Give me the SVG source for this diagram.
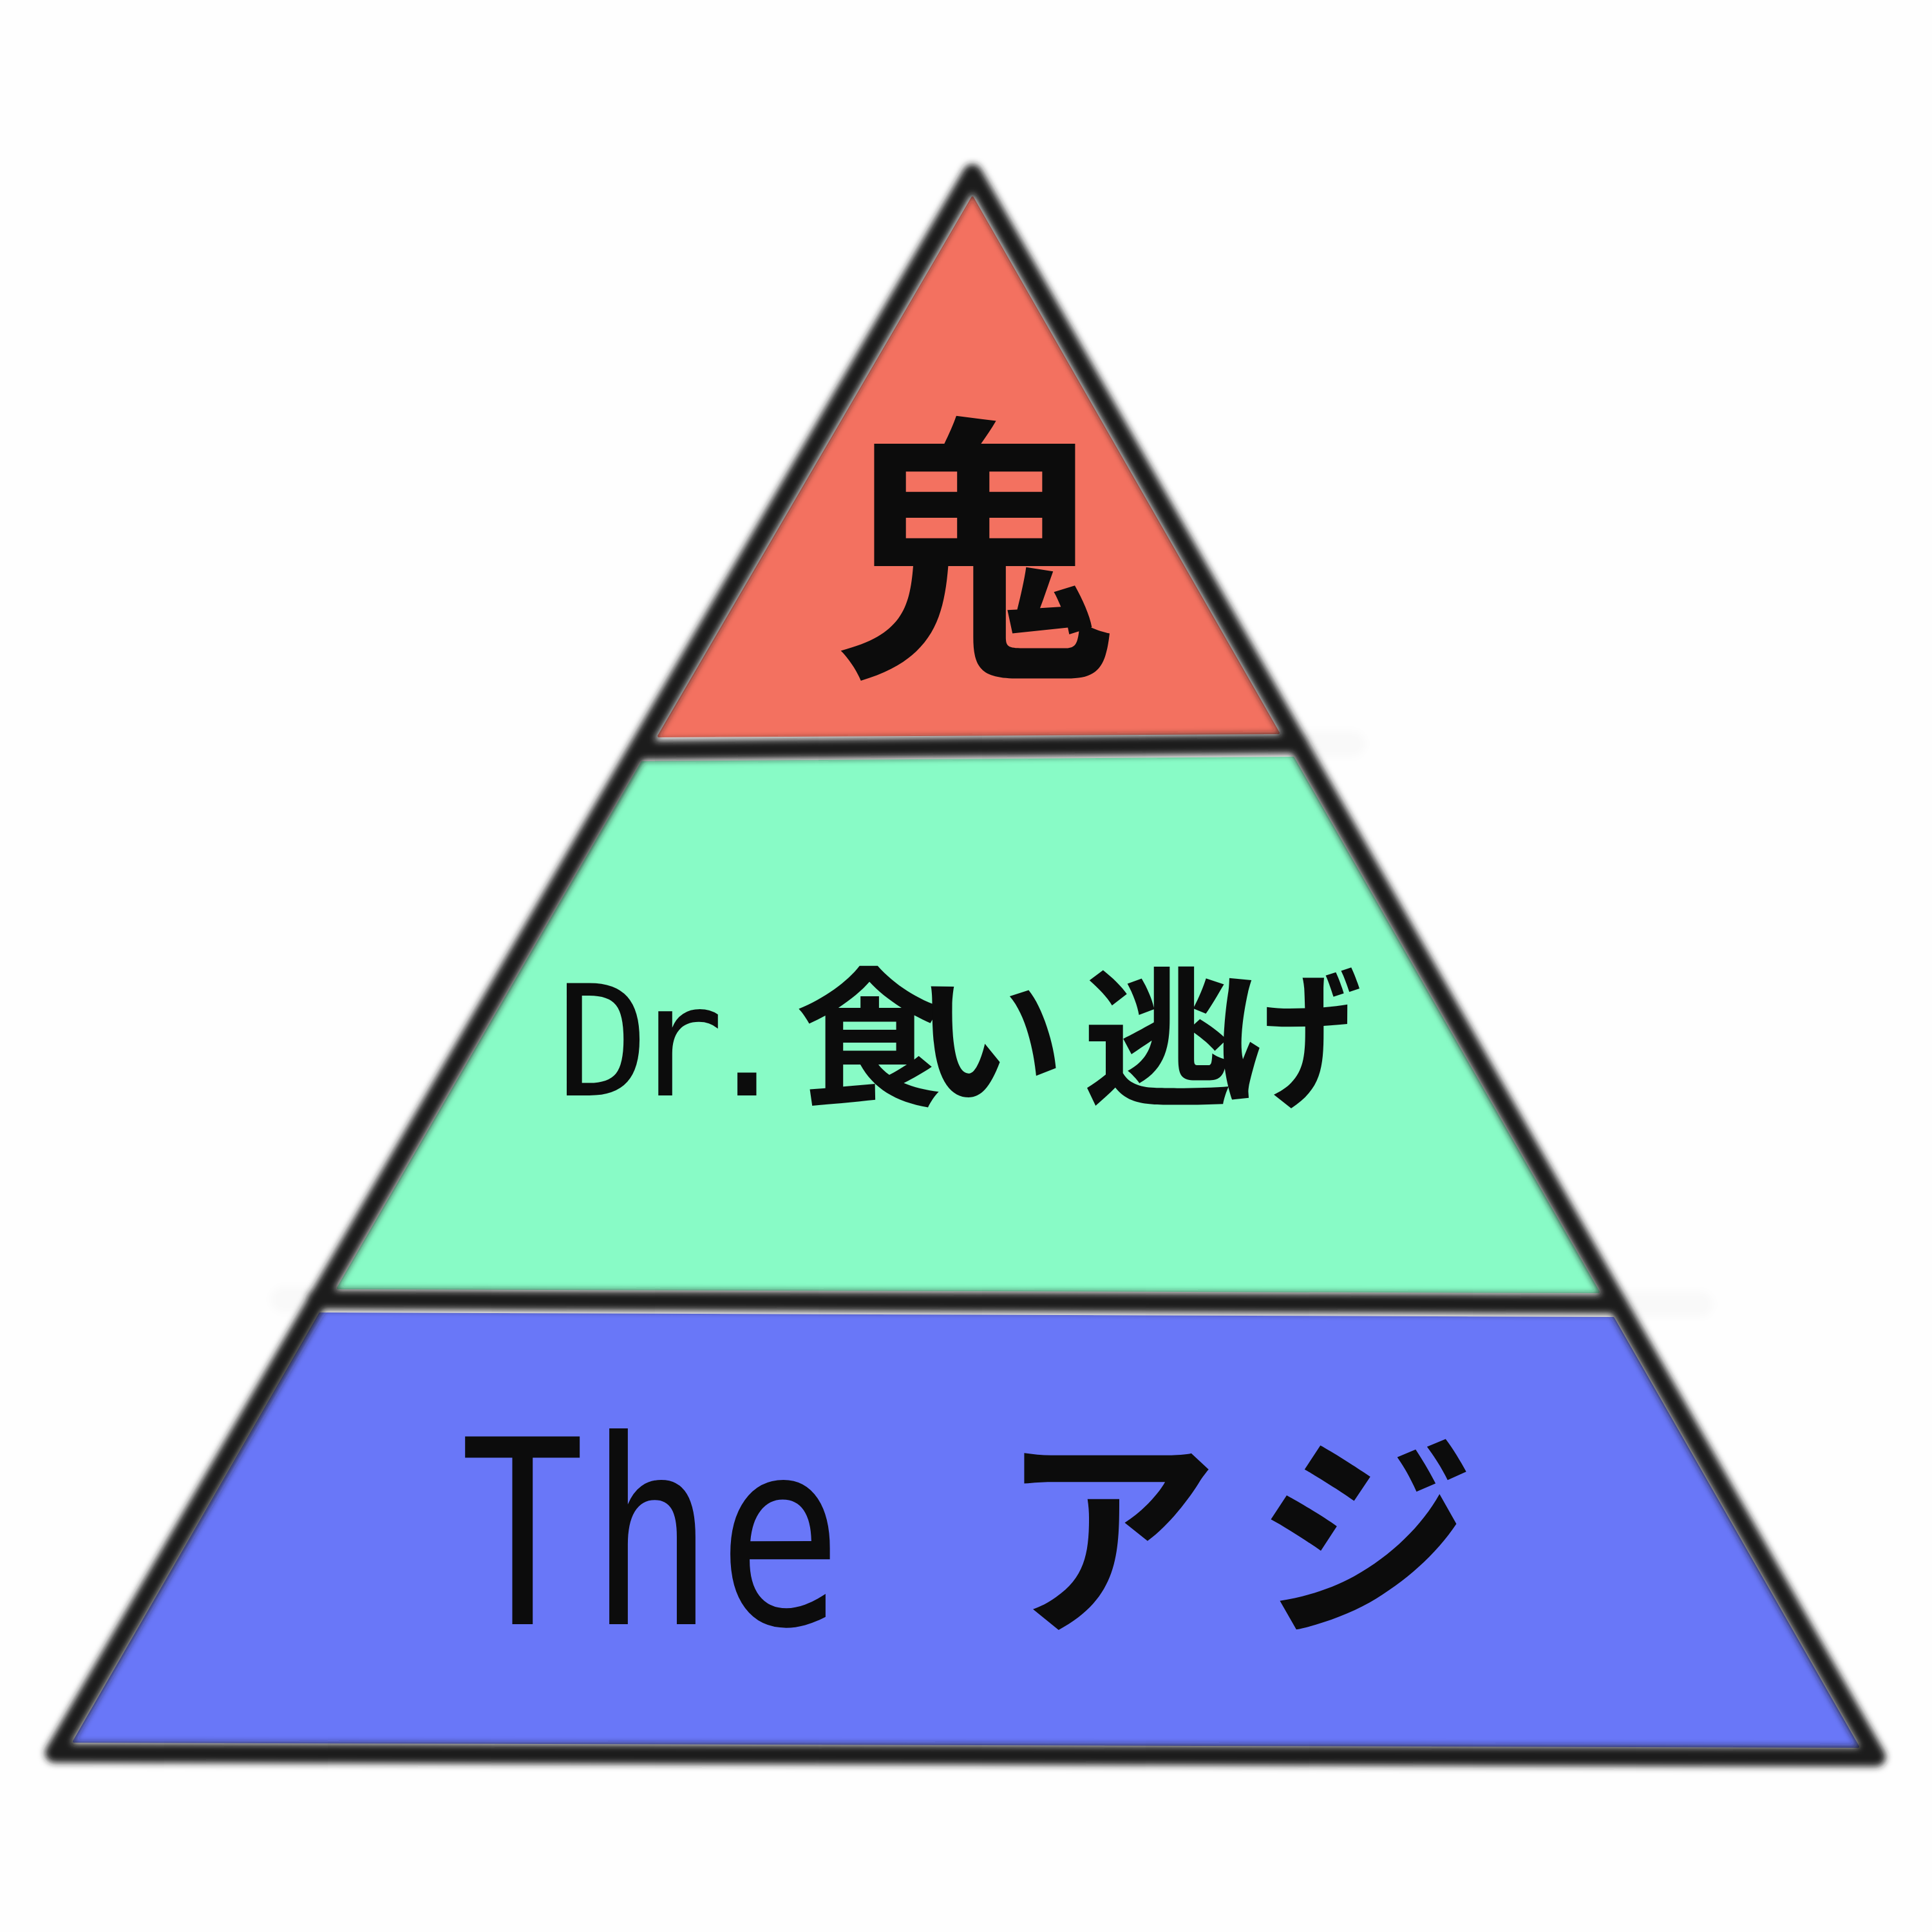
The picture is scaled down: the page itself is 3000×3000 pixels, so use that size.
<svg xmlns="http://www.w3.org/2000/svg" width="3000" height="3000" viewBox="0 0 3000 3000">
  <style>
    .ol { fill: none; stroke: #1e1e1e; stroke-width: 30; stroke-linejoin: round; stroke-linecap: round; }
    .ghost { fill: none; stroke: #000; stroke-opacity: 0.018; stroke-width: 40; stroke-linecap: round; }
    .ink { fill: #0c0c0c; }
    .jp { font-family: "Noto Sans CJK JP", "Noto Sans CJK SC", sans-serif; font-weight: 700; text-anchor: middle; }
    .lat { font-family: "DejaVu Sans Mono", "Liberation Mono", monospace; font-weight: 400; text-anchor: middle; }
  </style>
  <defs>
    <filter id="soft" x="-5%" y="-5%" width="110%" height="110%">
      <feGaussianBlur stdDeviation="5.5"/>
    </filter>
    <filter id="soft2" x="-20%" y="-50%" width="140%" height="200%">
      <feGaussianBlur stdDeviation="6"/>
    </filter>
  </defs>
  <rect width="3000" height="3000" fill="#fefefe"/>

  <g id="layer-top">
    <polygon points="1510,307 1985,1138 1023,1143" fill="#f37160" stroke="#f37160" stroke-width="4" stroke-linejoin="round"/>
    <text class="jp ink" x="1513" y="1016" font-size="432">鬼</text>
  </g>

  <g id="layer-middle">
    <polygon points="997,1184 2008,1177 2482,2006 525,2000" fill="#88fbc6" stroke="#88fbc6" stroke-width="4" stroke-linejoin="round"/>
    <text class="lat ink" font-size="239" y="1701" x="936 1052 1160">Dr.</text>
    <text class="jp ink" font-size="232" y="1698" x="1351 1537 1798 1998">食い逃げ</text>
  </g>

  <g id="layer-bottom">
    <polygon points="497,2040 2505,2047 2885,2712 115,2704" fill="#6977f8" stroke="#6977f8" stroke-width="4" stroke-linejoin="round"/>
    <g transform="scale(0.8,1)">
      <text class="lat ink" font-size="400" y="2522" x="1014 1265 1514">The</text>
    </g>
    <text class="jp ink" font-size="340" y="2512" x="1722 2120">アジ</text>
  </g>

  <g id="connectors">
    <g filter="url(#soft2)">
      <path class="ghost" d="M2030,1155 L2100,1155"/>
      <path class="ghost" d="M440,2018 L480,2018"/>
      <path class="ghost" d="M2525,2025 L2640,2025"/>
    </g>
    <g filter="url(#soft)">
      <path class="ol" d="M1510,270 L2913,2728 L85,2722 Z"/>
      <path class="ol" d="M990,1165 L2016,1155"/>
      <path class="ol" d="M492,2018 L2512,2025"/>
    </g>
  </g>
</svg>
